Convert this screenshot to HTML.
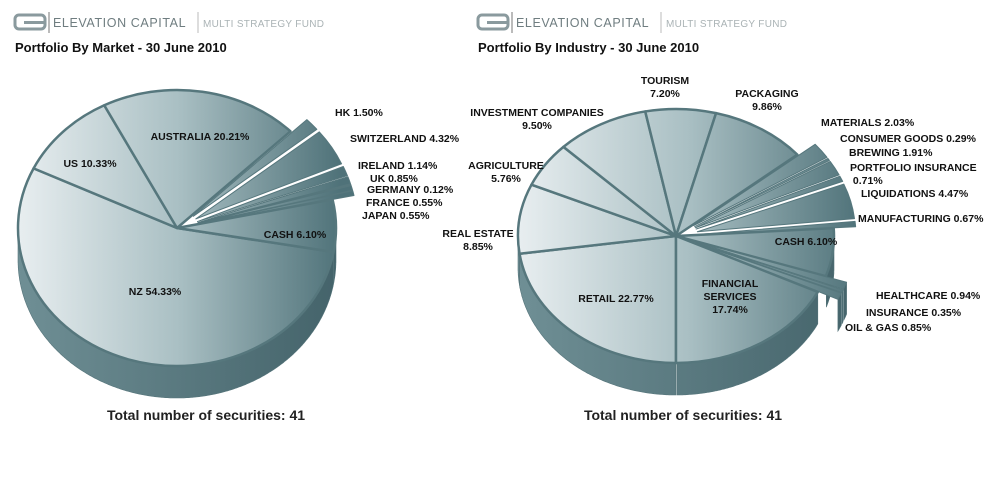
<!DOCTYPE html>
<html><head><meta charset="utf-8"><style>
html,body{margin:0;padding:0;background:#fff;width:1000px;height:478px;overflow:hidden;font-family:"Liberation Sans",Arial,sans-serif}
svg{display:block}
</style></head><body>
<svg id="chart" width="1000" height="478" viewBox="0 0 1000 478" xmlns="http://www.w3.org/2000/svg">
<defs>
<linearGradient id="topL" gradientUnits="userSpaceOnUse" x1="18" y1="0" x2="340" y2="0"><stop offset="0" stop-color="#e8eef0"/><stop offset="0.5" stop-color="#a9bfc3"/><stop offset="1" stop-color="#4f7279"/></linearGradient>
<linearGradient id="topR" gradientUnits="userSpaceOnUse" x1="518" y1="0" x2="860" y2="0"><stop offset="0" stop-color="#e8eef0"/><stop offset="0.5" stop-color="#a9bfc3"/><stop offset="1" stop-color="#4f7279"/></linearGradient>
<linearGradient id="sideL" gradientUnits="userSpaceOnUse" x1="18" y1="0" x2="340" y2="0"><stop offset="0" stop-color="#6f8f95"/><stop offset="1" stop-color="#44636a"/></linearGradient>
<linearGradient id="sideR" gradientUnits="userSpaceOnUse" x1="518" y1="0" x2="860" y2="0"><stop offset="0" stop-color="#6f8f95"/><stop offset="1" stop-color="#44636a"/></linearGradient>
</defs>
<g>
<rect x="15" y="15" width="30" height="14" rx="4" fill="none" stroke="#8a9a9e" stroke-width="3"/><rect x="24" y="21" width="21" height="3" fill="#8a9a9e"/>
<line x1="49" y1="12" x2="49" y2="33" stroke="#777"/>
<text x="53" y="27" font-size="12.5" fill="#6f7d80" letter-spacing="0.6">ELEVATION CAPITAL</text>
<line x1="198" y1="12" x2="198" y2="33" stroke="#bbb"/>
<text x="203" y="27" font-size="10" fill="#aab3b5" letter-spacing="0.3">MULTI STRATEGY FUND</text>
<text x="15" y="52" font-size="13" font-weight="bold" fill="#111">Portfolio By Market - 30 June 2010</text>
</g>
<g>
<rect x="478" y="15" width="30" height="14" rx="4" fill="none" stroke="#8a9a9e" stroke-width="3"/><rect x="487" y="21" width="21" height="3" fill="#8a9a9e"/>
<line x1="512" y1="12" x2="512" y2="33" stroke="#777"/>
<text x="516" y="27" font-size="12.5" fill="#6f7d80" letter-spacing="0.6">ELEVATION CAPITAL</text>
<line x1="661" y1="12" x2="661" y2="33" stroke="#bbb"/>
<text x="666" y="27" font-size="10" fill="#aab3b5" letter-spacing="0.3">MULTI STRATEGY FUND</text>
<text x="478" y="52" font-size="13" font-weight="bold" fill="#111">Portfolio By Industry - 30 June 2010</text>
</g>
<g id="pieL"></g>
<g id="pieR"></g>
<g id="labels" font-size="10.5" font-weight="bold" fill="#111"></g>
<text x="206" y="420" text-anchor="middle" font-size="14" font-weight="bold" fill="#222">Total number of securities: 41</text>
<text x="683" y="420" text-anchor="middle" font-size="14" font-weight="bold" fill="#222">Total number of securities: 41</text>
</svg>
<script>
const marketNames = ["NZ","US","AUSTRALIA","HK","SWITZERLAND","IRELAND","UK","GERMANY","FRANCE","JAPAN","CASH"];
const marketValues = [54.33,10.33,20.21,1.50,4.32,1.14,0.85,0.12,0.55,0.55,6.10];
const marketExploded = [0,0,0,1,1,1,1,1,1,1,0];
const industryNames = ["RETAIL","REAL ESTATE","AGRICULTURE","INVESTMENT COMPANIES","TOURISM","PACKAGING","MATERIALS","CONSUMER GOODS","BREWING","PORTFOLIO INSURANCE","LIQUIDATIONS","MANUFACTURING","CASH","HEALTHCARE","INSURANCE","OIL & GAS","FINANCIAL SERVICES"];
const industryValues = [22.77,8.85,5.76,9.50,7.20,9.86,2.03,0.29,1.91,0.71,4.47,0.67,6.10,0.94,0.35,0.85,17.74];
const industryExploded = [0,0,0,0,0,0,1,1,1,1,1,1,0,1,1,1,0];

const NS="http://www.w3.org/2000/svg";
function mk(tag,attrs,parent){const e=document.createElementNS(NS,tag);for(const k in attrs)e.setAttribute(k,attrs[k]);parent.appendChild(e);return e;}
function drawPie(g,names,values,exploded,geo,topFill,sideFill,prefix){
  const total=values.reduce((a,b)=>a+b,0);
  const rad=d=>d*Math.PI/180;
  const P=(cx,cy,a,dy)=>[cx+geo.rx*Math.cos(rad(a)),cy+geo.ry*Math.sin(rad(a))+dy];
  let a=geo.start; const slices=[];
  values.forEach((v,i)=>{const a0=a,a1=a+v/total*360;a=a1;const mid=(a0+a1)/2;
    const off=exploded[i]?geo.explode:0;
    slices.push({i,a0,a1,cx:geo.cx+off*Math.cos(rad(mid)),cy:geo.cy+off*Math.sin(rad(mid))*0.8});});
  const walls=mk('g',{},g);
  
  
  slices.forEach(s=>{
    const pts=[];
    for(let t=s.a0;t<=s.a1+0.001;t+=0.5){const n=((t%360)+360)%360;if(n>=0&&n<=180)pts.push(t);}
    if(pts.length<2)return;
    let d='';pts.forEach((t,k)=>{const p=P(s.cx,s.cy,t,0);d+=(k?'L':'M')+p[0].toFixed(1)+' '+p[1].toFixed(1);});
    for(let k=pts.length-1;k>=0;k--){const p=P(s.cx,s.cy,pts[k],geo.depth);d+='L'+p[0].toFixed(1)+' '+p[1].toFixed(1);}
    const w=mk('path',{d:d+'Z',fill:sideFill,stroke:'#55747a','stroke-width':'0.6'},walls);
    
    
  });
  slices.forEach(s=>{
    const p0=P(s.cx,s.cy,s.a0,0),p1=P(s.cx,s.cy,s.a1,0);
    const large=(s.a1-s.a0)>180?1:0;
    const d=`M${s.cx} ${s.cy}L${p0[0]} ${p0[1]}A${geo.rx} ${geo.ry} 0 ${large} 1 ${p1[0]} ${p1[1]}Z`;
    const e=mk('path',{d,fill:topFill,stroke:'#56777d','stroke-width':exploded[s.i]?'1':'2.5','stroke-linejoin':'round'},g);
    
    
  });
}
drawPie(document.getElementById('pieL'),marketNames,marketValues,marketExploded,
  {cx:177,cy:228,rx:159,ry:138,depth:32,start:10,explode:22},'url(#topL)','url(#sideL)','market');
drawPie(document.getElementById('pieR'),industryNames,industryValues,industryExploded,
  {cx:676,cy:236,rx:158,ry:127,depth:32,start:90,explode:22},'url(#topR)','url(#sideR)','industry');

const L=document.getElementById('labels');
function fmt(v){return v.toFixed(2)+'%';}
function label(lines,x,y,anchor,name){
  const t=mk('text',{x,y,'text-anchor':anchor},L);
  
  
  lines.forEach((s,k)=>{const ts=mk('tspan',{x,dy:k?13:0},t);ts.textContent=s;});
}
const mLayout={"NZ":[155,295,'middle',0],"US":[90,167,'middle',0],"AUSTRALIA":[200,140,'middle',0],"HK":[335,116,'start',0],"SWITZERLAND":[350,142,'start',0],"IRELAND":[358,169,'start',0],"UK":[370,182,'start',0],"GERMANY":[367,193,'start',0],"FRANCE":[366,206,'start',0],"JAPAN":[362,219,'start',0],"CASH":[295,238,'middle',0]};
marketNames.forEach((n,i)=>{const p=mLayout[n];label([n+' '+fmt(marketValues[i])],p[0],p[1],p[2],'label-market-'+n.toLowerCase());});
const iLayout={"RETAIL":[616,302,'middle',0],"REAL ESTATE":[478,237,'middle',1],"AGRICULTURE":[506,169,'middle',1],"INVESTMENT COMPANIES":[537,116,'middle',1],"TOURISM":[665,84,'middle',1],"PACKAGING":[767,97,'middle',1],"MATERIALS":[821,126,'start',0],"CONSUMER GOODS":[840,142,'start',0],"BREWING":[849,156,'start',0],"PORTFOLIO INSURANCE":[850,171,'start',2],"LIQUIDATIONS":[861,197,'start',0],"MANUFACTURING":[858,222,'start',0],"CASH":[806,245,'middle',0],"HEALTHCARE":[876,299,'start',0],"INSURANCE":[866,316,'start',0],"OIL & GAS":[845,331,'start',0],"FINANCIAL SERVICES":[730,287,'middle',3]};
industryNames.forEach((n,i)=>{const p=iLayout[n];const v=fmt(industryValues[i]);let lines;
  if(p[3]===1)lines=[n,v];else if(p[3]===2)lines=[n,'          '+v];else if(p[3]===3)lines=['FINANCIAL','SERVICES',v];
  else lines=[n+(n==='INSURANCE'?'  ':' ')+v];
  label(lines,p[0],p[1],p[2],'label-industry-'+n.toLowerCase().replace(/[^a-z]+/g,'-'));});
</script>
</body></html>
